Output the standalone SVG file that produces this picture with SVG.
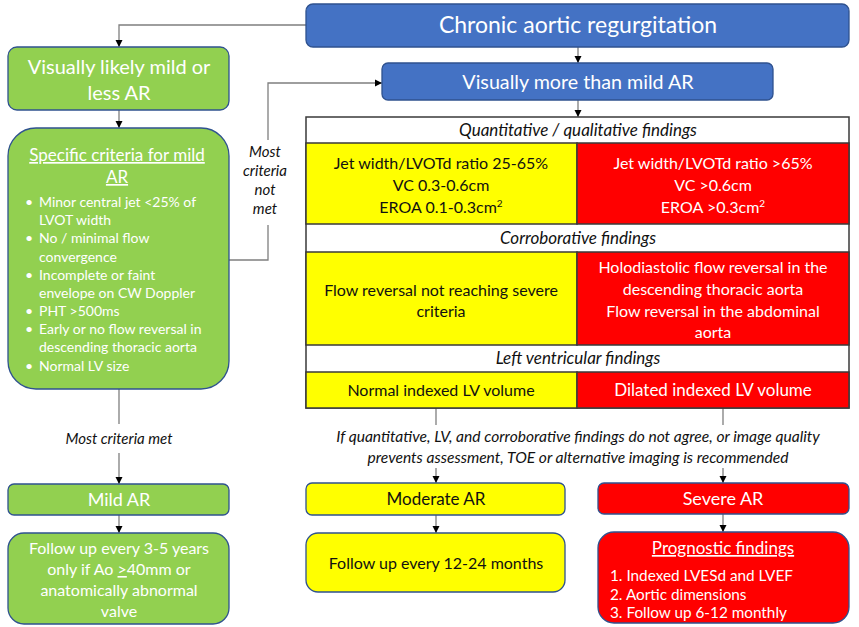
<svg xmlns="http://www.w3.org/2000/svg" width="859" height="627" viewBox="0 0 859 627">
<style>
text{font-family:Lato,"Open Sans","Liberation Sans",sans-serif;}
.w{fill:#ffffff;}
.k{fill:#111111;}
.it{font-style:italic;}
.c{text-anchor:middle;}
.blue{fill:#4472C4;stroke:#2F528F;stroke-width:1.3;}
.green{fill:#92D050;stroke:#2F528F;stroke-width:1.3;}
.yel{fill:#FFFF00;stroke:#2F528F;stroke-width:1.3;}
.red{fill:#FF0000;stroke:#2F528F;stroke-width:1.3;}
.cell{stroke:#3a3a3a;stroke-width:1.5;}
.ln{fill:none;stroke:#7F7F7F;stroke-width:1.3;}
.u{text-decoration:underline;}
</style>
<defs>
<marker id="ah" markerWidth="8" markerHeight="8" refX="7" refY="4" orient="auto" markerUnits="userSpaceOnUse"><path d="M0,0.5 L7,4 L0,7.5 z" fill="#000"/></marker>
</defs>
<rect width="859" height="627" fill="#ffffff"/>

<g id="connectors">
<path class="ln" d="M306,25 H119 V47" marker-end="url(#ah)"/>
<path class="ln" d="M578,47 V63" marker-end="url(#ah)"/>
<path class="ln" d="M119,110 V128" marker-end="url(#ah)"/>
<path class="ln" d="M229,260 H268 V225"/>
<path class="ln" d="M268,140 V83 H382" marker-end="url(#ah)"/>
<path class="ln" d="M578,100 V117" marker-end="url(#ah)"/>
<path class="ln" d="M119,389 V424"/>
<path class="ln" d="M119,453 V484" marker-end="url(#ah)"/>
<path class="ln" d="M119,515 V533" marker-end="url(#ah)"/>
<path class="ln" d="M436,408 V425"/>
<path class="ln" d="M436,468 V483" marker-end="url(#ah)"/>
<path class="ln" d="M723,408 V425"/>
<path class="ln" d="M723,468 V483" marker-end="url(#ah)"/>
<path class="ln" d="M436,515 V533" marker-end="url(#ah)"/>
<path class="ln" d="M723,514 V532" marker-end="url(#ah)"/>
<text class="k it c" font-size="15" x="265" y="157">Most</text>
<text class="k it c" font-size="15" x="265" y="176">criteria</text>
<text class="k it c" font-size="15" x="265" y="195">not</text>
<text class="k it c" font-size="15" x="265" y="214">met</text>
<text class="k it c" font-size="15" x="119" y="444">Most criteria met</text>
<text class="k it c" font-size="15.6" x="578" y="442">If quantitative, LV, and corroborative findings do not agree, or image quality</text>
<text class="k it c" font-size="15.6" x="578" y="463">prevents assessment, TOE or alternative imaging is recommended</text>
</g>

<g id="chronic">
<rect class="blue" x="306" y="4" width="543" height="43" rx="7"/>
<text class="w c" font-size="23" x="578" y="33">Chronic aortic regurgitation</text>
</g>

<g id="more-than-mild">
<rect class="blue" x="382" y="63" width="391" height="37" rx="6"/>
<text class="w c" font-size="19.7" x="578" y="88.5">Visually more than mild AR</text>
</g>

<g id="likely-mild">
<rect class="green" x="8" y="47" width="221" height="63" rx="9"/>
<text class="w c" font-size="20" x="119" y="74">Visually likely mild or</text>
<text class="w c" font-size="20" x="119" y="100">less AR</text>
</g>

<g id="specific-criteria">
<rect class="green" x="8" y="128" width="221" height="261" rx="28"/>
<text class="w c u" font-size="17" x="117" y="161">Specific criteria for mild</text>
<text class="w c u" font-size="17" x="117" y="183">AR</text>
<g class="w" font-size="14">
<text x="25" y="207">•</text><text x="39" y="207">Minor central jet &lt;25% of</text>
<text x="39" y="225">LVOT width</text>
<text x="25" y="243">•</text><text x="39" y="243">No / minimal flow</text>
<text x="39" y="262">convergence</text>
<text x="25" y="280">•</text><text x="39" y="280">Incomplete or faint</text>
<text x="39" y="298">envelope on CW Doppler</text>
<text x="25" y="316">•</text><text x="39" y="316">PHT &gt;500ms</text>
<text x="25" y="334">•</text><text x="39" y="334">Early or no flow reversal in</text>
<text x="39" y="352">descending thoracic aorta</text>
<text x="25" y="371">•</text><text x="39" y="371">Normal LV size</text>
</g>
</g>

<g id="findings-table">
<rect x="306" y="117" width="543" height="291" fill="#ffffff" class="cell"/>
<rect class="cell" x="306" y="143" width="271" height="81" fill="#FFFF00"/>
<rect class="cell" x="577" y="143" width="272" height="81" fill="#FF0000"/>
<rect class="cell" x="306" y="252" width="271" height="93" fill="#FFFF00"/>
<rect class="cell" x="577" y="252" width="272" height="93" fill="#FF0000"/>
<rect class="cell" x="306" y="372" width="271" height="36" fill="#FFFF00"/>
<rect class="cell" x="577" y="372" width="272" height="36" fill="#FF0000"/>
<text class="k it c" font-size="17" x="578" y="136">Quantitative / qualitative findings</text>
<text class="k c" font-size="16" x="441" y="169">Jet width/LVOTd ratio 25-65%</text>
<text class="k c" font-size="16" x="441" y="191">VC 0.3-0.6cm</text>
<text class="k c" font-size="16" x="441" y="213">EROA 0.1-0.3cm<tspan font-size="10" dy="-6">2</tspan></text>
<text class="w c" font-size="16" x="713" y="169">Jet width/LVOTd ratio &gt;65%</text>
<text class="w c" font-size="16" x="713" y="191">VC &gt;0.6cm</text>
<text class="w c" font-size="16" x="713" y="213">EROA &gt;0.3cm<tspan font-size="10" dy="-6">2</tspan></text>
<text class="k it c" font-size="17" x="578" y="244">Corroborative findings</text>
<text class="k c" font-size="16" x="441" y="296">Flow reversal not reaching severe</text>
<text class="k c" font-size="16" x="441" y="317">criteria</text>
<text class="w c" font-size="16" x="713" y="273">Holodiastolic flow reversal in the</text>
<text class="w c" font-size="16" x="713" y="295">descending thoracic aorta</text>
<text class="w c" font-size="16" x="713" y="317">Flow reversal in the abdominal</text>
<text class="w c" font-size="16" x="713" y="338">aorta</text>
<text class="k it c" font-size="17" x="578" y="364">Left ventricular findings</text>
<text class="k c" font-size="16" x="441" y="396">Normal indexed LV volume</text>
<text class="w c" font-size="17" x="713" y="396">Dilated indexed LV volume</text>
</g>

<g id="mild-ar">
<rect class="green" x="8" y="484" width="221" height="31" rx="6"/>
<text class="w c" font-size="18" x="119" y="506">Mild AR</text>
</g>

<g id="mild-follow-up">
<rect class="green" x="8" y="533" width="221" height="91" rx="16"/>
<text class="w c" font-size="16" x="119" y="554">Follow up every 3-5 years</text>
<text class="w c" font-size="16" x="119" y="575">only if Ao <tspan class="u">&gt;</tspan>40mm or</text>
<text class="w c" font-size="16" x="119" y="596">anatomically abnormal</text>
<text class="w c" font-size="16" x="119" y="617">valve</text>
</g>

<g id="moderate-ar">
<rect class="yel" x="306" y="483" width="259" height="32" rx="6"/>
<text class="k c" font-size="17" x="436" y="505">Moderate AR</text>
</g>

<g id="moderate-follow-up">
<rect class="yel" x="306" y="533" width="259" height="59" rx="12"/>
<text class="k c" font-size="16" x="436" y="569">Follow up every 12-24 months</text>
</g>

<g id="severe-ar">
<rect class="red" x="598" y="483" width="251" height="31" rx="6"/>
<text class="w c" font-size="18" x="723" y="505">Severe AR</text>
</g>

<g id="prognostic">
<rect class="red" x="598" y="532" width="251" height="91" rx="16"/>
<text class="w c u" font-size="17" x="723" y="554">Prognostic findings</text>
<text class="w" font-size="15.3" x="610" y="581">1. Indexed LVESd and LVEF</text>
<text class="w" font-size="15.3" x="610" y="600">2. Aortic dimensions</text>
<text class="w" font-size="15.3" x="610" y="618">3. Follow up 6-12 monthly</text>
</g>
</svg>
